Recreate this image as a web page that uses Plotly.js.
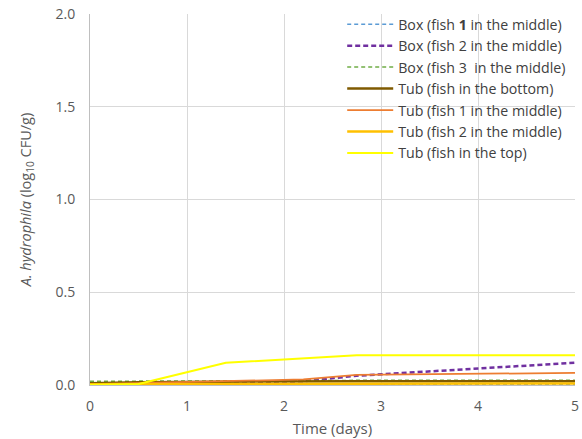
<!DOCTYPE html>
<html><head><meta charset="utf-8">
<script src="https://cdn.plot.ly/plotly-3.0.1.min.js"></script>
<style>html,body{margin:0;padding:0;background:#fff}</style>
</head><body>
<div id="chart" style="width:582px;height:439px"></div>
<script>
const days = [0, 0.5, 1.4, 2.2, 2.75, 5];
const seriesNames = [
  "Box (fish <b>1</b> in the middle)",
  "Box (fish 2 in the middle)",
  "Box (fish 3  in the middle)",
  "Tub (fish in the bottom)",
  "Tub (fish 1 in the middle)",
  "Tub (fish 2 in the middle)",
  "Tub (fish in the top)"
];
const boxFish1 = [0.002, 0.002, 0.002, 0.002, 0.002, 0.002];
const boxFish2 = [0.01, 0.01, 0.015, 0.02, 0.05, 0.12];
const boxFish3 = [0.02, 0.02, 0.02, 0.024, 0.025, 0.025];
const tubBottom = [0.01, 0.015, 0.018, 0.02, 0.02, 0.02];
const tubFish1 = [0.005, 0.01, 0.02, 0.03, 0.055, 0.065];
const tubFish2 = [0.004, 0.005, 0.006, 0.006, 0.007, 0.008];
const tubTop = [0.0, 0.005, 0.12, 0.145, 0.16, 0.16];

const values = [boxFish1, boxFish2, boxFish3, tubBottom, tubFish1, tubFish2, tubTop];
const styles = [
  {color:"#5B9BD5", width:1.5, dash:"4px,3px"},
  {color:"#7030A0", width:2.5, dash:"5px,3px"},
  {color:"#70AD47", width:1.5, dash:"4px,3px"},
  {color:"#7F5A00", width:2.5, dash:"solid"},
  {color:"#ED7D31", width:1.75, dash:"solid"},
  {color:"#FFC000", width:2.5, dash:"solid"},
  {color:"#FFFF00", width:2, dash:"solid"}
];
const traces = values.map((v,i)=>({
  x: days, y: v, name: seriesNames[i], type:"scatter", mode:"lines",
  line: styles[i]
}));
const layout = {
  width:582, height:439,
  margin:{l:90, r:7, t:14, b:54},
  paper_bgcolor:"#fff", plot_bgcolor:"#fff",
  font:{family:"Open Sans, Liberation Sans, sans-serif", color:"#595959", size:14},
  showlegend:true,
  legend:{x:0.52, xanchor:"left", y:1.015, yanchor:"top", bgcolor:"rgba(0,0,0,0)",
    font:{size:14.2, color:"#404040"}, tracegroupgap:0, itemwidth:46},
  xaxis:{range:[0,5], dtick:1, tick0:0, showgrid:true, gridcolor:"#d9d9d9",
    zeroline:false, showline:true, linecolor:"#bfbfbf", ticks:"", ticklen:0,
    ticklabelstandoff:8,
    tickfont:{size:14, color:"#595959"},
    title:{text:"Time (days)", font:{size:15, color:"#595959"}, standoff:9}},
  yaxis:{range:[0,2], dtick:0.5, tick0:0, tickformat:".1f", showgrid:true, gridcolor:"#d9d9d9",
    zeroline:false, showline:true, linecolor:"#bfbfbf",
    ticks:"outside", ticklen:11, tickcolor:"rgba(0,0,0,0)",
    tickfont:{size:14, color:"#595959"},
    title:{text:"<i>A. hydrophila</i> (log<sub>10</sub> CFU/g)", font:{size:14.5, color:"#595959"}, standoff:20}}
};
Plotly.newPlot("chart", traces, layout, {displayModeBar:false, staticPlot:true});
</script>
</body></html>
